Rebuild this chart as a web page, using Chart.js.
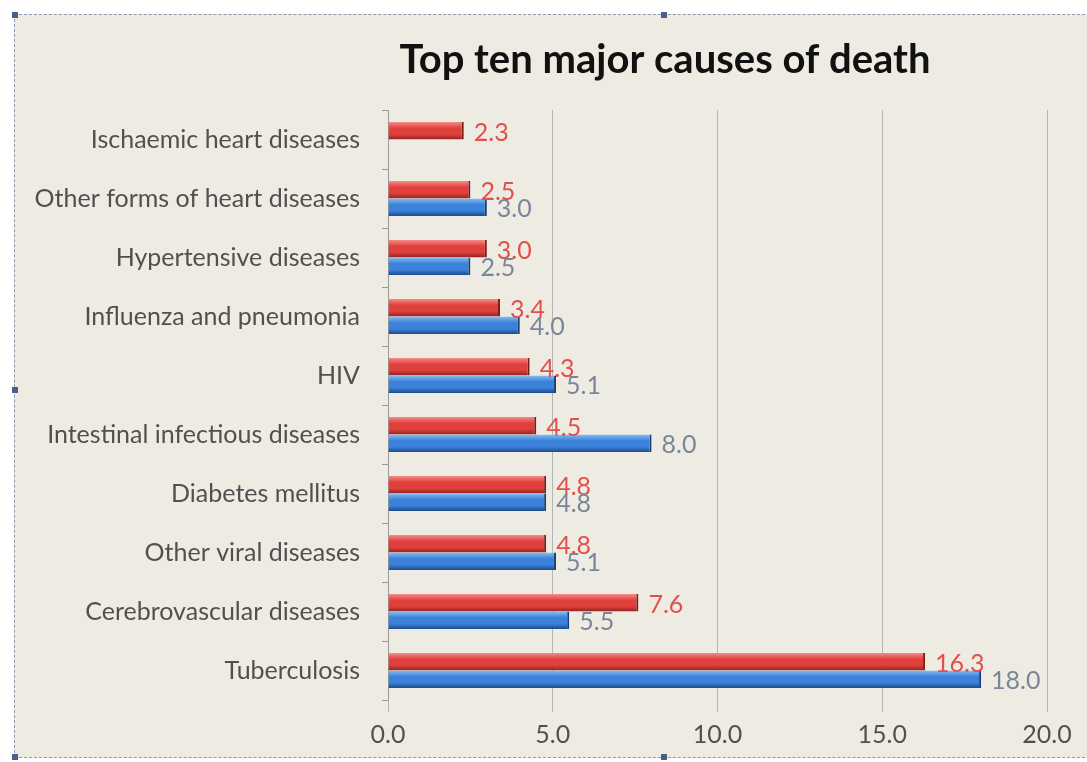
<!DOCTYPE html>
<html>
<head>
<meta charset="utf-8">
<script src="https://cdn.jsdelivr.net/npm/chart.js@4"></script>
<style>
  html, body { margin: 0; padding: 0; background: #fff; }
  #frame { position: absolute; left: 0; top: 0; width: 1087px; height: 762px; overflow: hidden; }
  #panel { position: absolute; left: 14px; top: 14px; width: 1100px; height: 742px; background: #EEEBE3;
           border-top: 1px dashed #8a9ab0; border-left: 1px dashed #8a9ab0; border-bottom: 1px dashed #8a9ab0; }
  .handle { position: absolute; width: 6px; height: 6px; background: #4a6088; }
  #chart { position: absolute; left: 0; top: 0; }
</style>
</head>
<body>
<div id="frame">
  <div id="panel"></div>
  <div class="handle" style="left:12px;top:12px"></div>
  <div class="handle" style="left:661px;top:12px"></div>
  <div class="handle" style="left:12px;top:387px"></div>
  <div class="handle" style="left:12px;top:754px"></div>
  <div class="handle" style="left:661px;top:754px"></div>
  <canvas id="chart" width="1087" height="762"></canvas>
</div>
<script>
var titulo = 'Top ten major causes of death'

var Causas = [
    'Ischaemic heart diseases',
    'Other forms of heart diseases',
    'Hypertensive diseases',
    'Influenza and pneumonia',
    'HIV',
    'Intestinal infectious diseases',
    'Diabetes mellitus',
    'Other viral diseases',
    'Cerebrovascular diseases',
    'Tuberculosis'
]

var Serie_Roja = [2.3, 2.5, 3.0, 3.4, 4.3, 4.5, 4.8, 4.8, 7.6, 16.3]
var Serie_Azul = [null, 3.0, 2.5, 4.0, 5.1, 8.0, 4.8, 5.1, 5.5, 18.0]

var CAT_PCT = 0.59
var FUENTE = 'Lato, "Open Sans", sans-serif'

// cylinder-like shading for each bar, top light -> bottom dark
function gradiente(context, colores, serie) {
    var chart = context.chart
    var y = chart.scales.y
    if (!chart.chartArea || !y) return colores[1]
    var c = y.getPixelForValue(context.dataIndex)
    var banda = Math.abs(y.getPixelForValue(1) - y.getPixelForValue(0))
    var h = banda * CAT_PCT / 2
    var top = serie === 0 ? c - h : c
    var g = chart.ctx.createLinearGradient(0, top, 0, top + h)
    g.addColorStop(0, colores[0])
    g.addColorStop(0.35, colores[1])
    g.addColorStop(0.7, colores[1])
    g.addColorStop(1, colores[2])
    return g
}

var etiquetas = {
    id: 'etiquetas',
    afterDatasetsDraw: function (chart) {
        var ctx = chart.ctx
        ctx.save()
        ctx.font = '25px ' + FUENTE
        ctx.textBaseline = 'middle'
        ctx.textAlign = 'left'
        chart.data.datasets.forEach(function (ds, di) {
            var meta = chart.getDatasetMeta(di)
            meta.data.forEach(function (bar, i) {
                var v = ds.data[i]
                if (v == null) return
                ctx.fillStyle = di === 0 ? '#E2504C' : '#7A8698'
                ctx.fillText(v.toFixed(1), bar.x + 10, bar.y + (di === 0 ? 2 : 2))
            })
        })
        ctx.restore()
    }
}

var tituloPlugin = {
    id: 'tituloPlugin',
    afterDraw: function (chart) {
        var ctx = chart.ctx
        ctx.save()
        ctx.font = 'bold 40px ' + FUENTE
        ctx.fillStyle = '#111'
        ctx.textAlign = 'center'
        ctx.textBaseline = 'middle'
        ctx.fillText(titulo, 665, 60)
        ctx.restore()
    }
}

var ctx = document.getElementById('chart')
var chartData = {
    type: 'bar',
    data: {
        labels: Causas,
        datasets: [{
            label: 'Rojo',
            data: Serie_Roja,
            backgroundColor: function (c) { return gradiente(c, ['#F58A86', '#E0403C', '#8E2420'], 0) },
            borderColor: '#7A1E1A',
            borderWidth: { right: 2 },
            borderSkipped: false,
            barPercentage: 1,
            categoryPercentage: CAT_PCT
        },
        {
            label: 'Azul',
            data: Serie_Azul,
            backgroundColor: function (c) { return gradiente(c, ['#86BEF4', '#3C82DA', '#1C4C8E'], 1) },
            borderColor: '#1A3F74',
            borderWidth: { right: 2 },
            borderSkipped: false,
            barPercentage: 1,
            categoryPercentage: CAT_PCT
        }]
    },
    options: {
        indexAxis: 'y',
        responsive: false,
        animation: false,
        layout: { padding: { top: 110, right: 40, left: 0, bottom: 0 } },
        plugins: {
            legend: { display: false },
            tooltip: { enabled: false }
        },
        scales: {
            x: {
                min: 0,
                max: 20,
                ticks: {
                    stepSize: 5,
                    padding: 8,
                    color: '#505050',
                    font: { family: FUENTE, size: 25 },
                    callback: function (v) { return v.toFixed(1) }
                },
                grid: { color: '#B4B4B4', lineWidth: 1, tickLength: 12 },
                border: { display: false },
                afterFit: function (s) { s.height = 62 }
            },
            y: {
                ticks: {
                    padding: 22,
                    color: '#505050',
                    font: { family: FUENTE, size: 25 }
                },
                grid: { offset: true, drawOnChartArea: false, color: '#9A9A9A', tickLength: 6 },
                border: { display: true, color: '#9A9A9A' },
                afterFit: function (s) { s.width = 388 }
            }
        }
    },
    plugins: [etiquetas, tituloPlugin]
}
var myChart = new Chart(ctx, chartData)
</script>
</body>
</html>
